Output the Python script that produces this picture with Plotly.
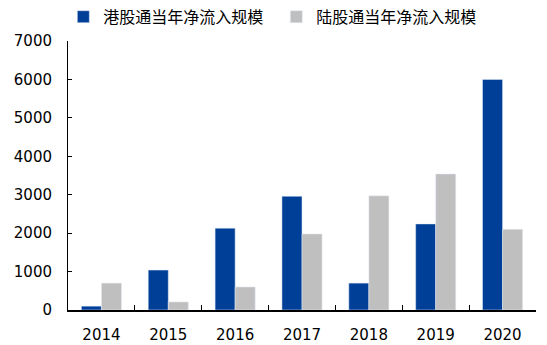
import plotly.graph_objects as go

years = ["2014", "2015", "2016", "2017", "2018", "2019", "2020"]
hk_flow = [100, 1040, 2130, 2960, 700, 2240, 6000]
a_flow = [700, 210, 600, 1980, 2970, 3540, 2100]
series_names = ["港股通当年净流入规模", "陆股通当年净流入规模"]
y_ticks = [0, 1000, 2000, 3000, 4000, 5000, 6000, 7000]

fig = go.Figure()
fig.add_trace(go.Bar(x=years, y=hk_flow, name=series_names[0], marker_color="#003F98"))
fig.add_trace(go.Bar(x=years, y=a_flow, name=series_names[1], marker_color="#BFBFBF"))

fig.update_layout(
    width=547, height=345,
    margin=dict(l=68, r=11, t=41, b=35, autoexpand=False),
    plot_bgcolor="white", paper_bgcolor="white",
    bargap=0.4, bargroupgap=0,
    font=dict(family="DejaVu Sans", size=15, color="black"),
    legend=dict(orientation="h", x=-0.01, y=1.09, xanchor="left", yanchor="middle",
                font=dict(family="Noto Sans CJK SC", size=16), itemwidth=30,
                traceorder="normal", entrywidth=168, tracegroupgap=0),
    showlegend=True,
)
fig.update_xaxes(showline=True, linecolor="black", linewidth=1.5, ticks="inside",
                 tickson="boundaries", ticklen=5, tickcolor="black", showgrid=False,
                 ticklabelstandoff=10, automargin=False)
fig.update_yaxes(range=[0, 7000], tickvals=y_ticks, showline=True, linecolor="black",
                 linewidth=1, ticks="inside", ticklen=4, tickcolor="black",
                 showgrid=False, zeroline=False, ticklabelstandoff=12, automargin=False)

fig.write_html("out.html")
